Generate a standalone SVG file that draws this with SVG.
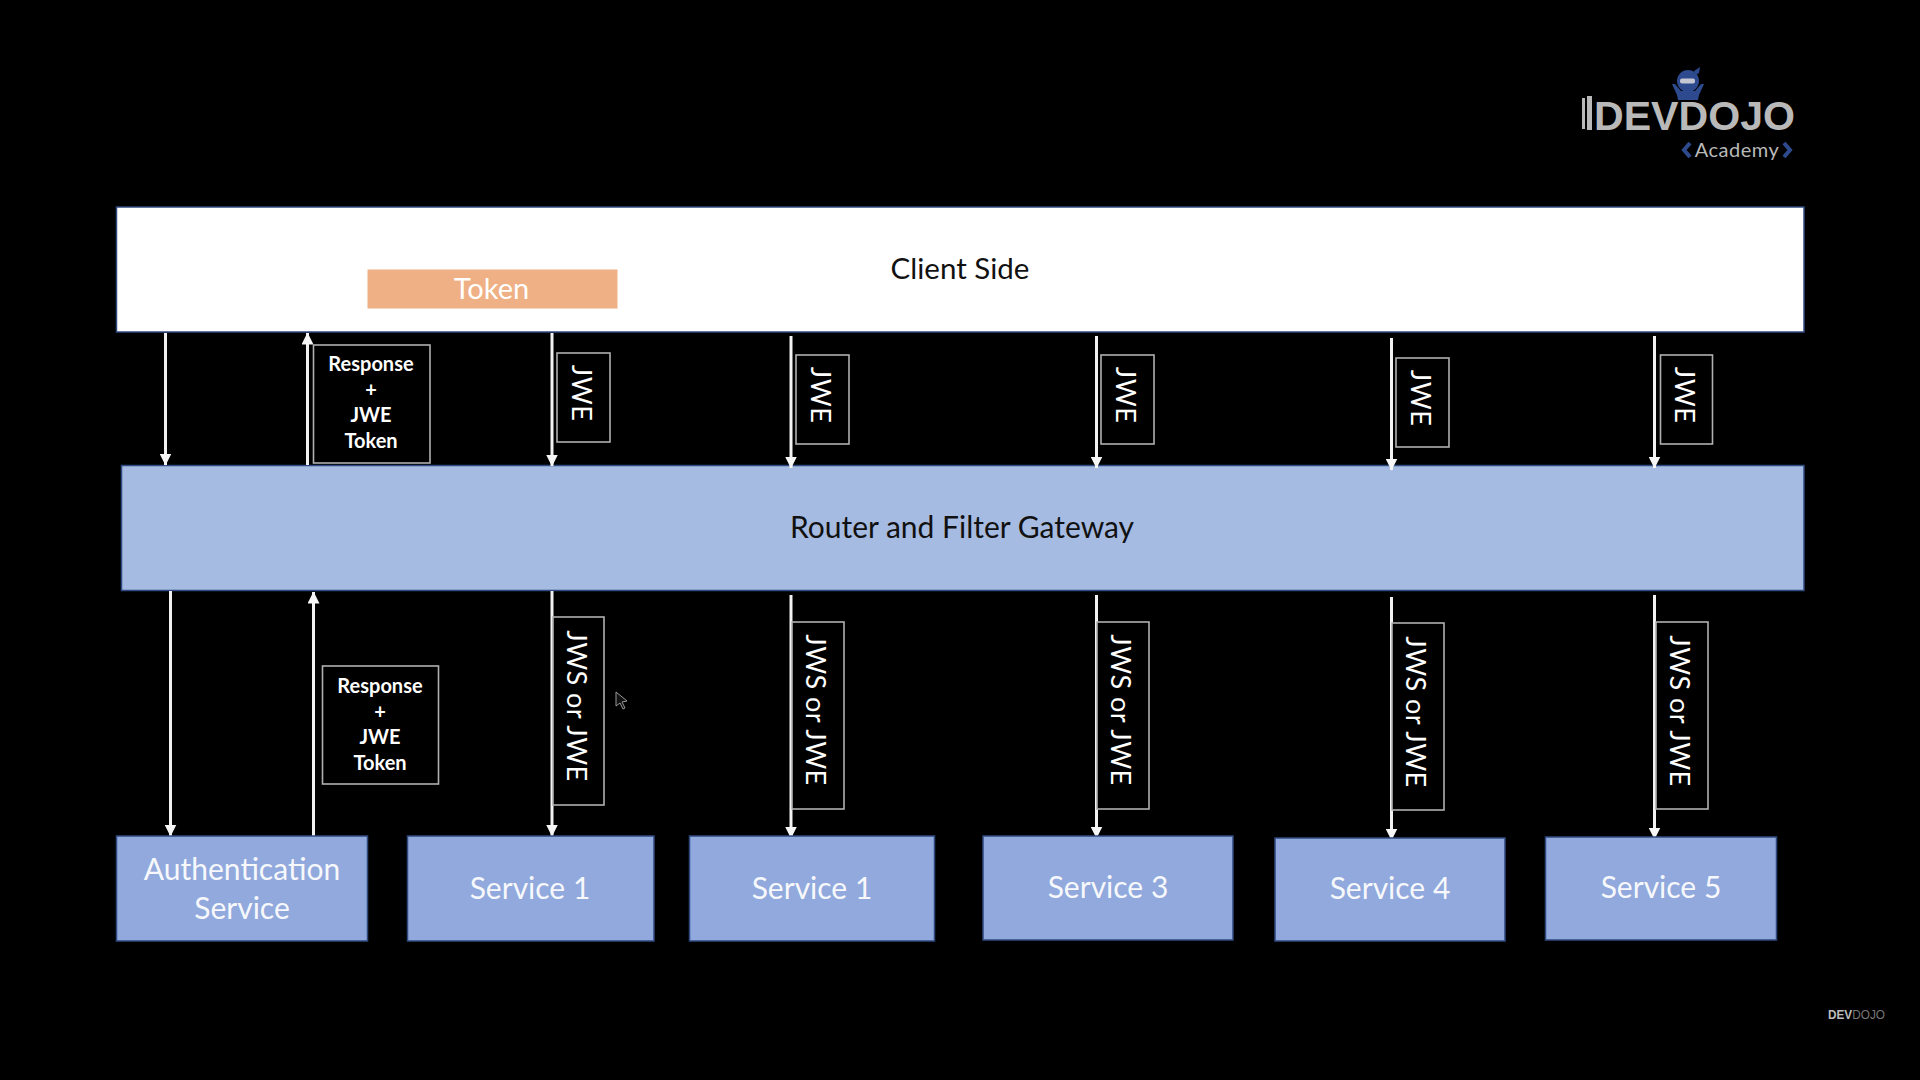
<svg xmlns="http://www.w3.org/2000/svg" width="1920" height="1080" viewBox="0 0 1920 1080">
<style>
text{font-family:"Lato","Open Sans","Liberation Sans",sans-serif;text-anchor:middle}
.bar{stroke:#2f4a80;stroke-width:1.5}
.svc{fill:#91a9dc}
.svct{fill:#fff;font-size:30px;opacity:.93}
.lab{fill:#000;stroke:#b0b0b0;stroke-width:1.6}
.labt{fill:#fff;font-size:27px;letter-spacing:.5px}
.resp{fill:#fff;font-size:20px;font-weight:700}
.conn line{stroke:#f2f2f2;stroke-width:3}
.logo{fill:#b9b9b9}
</style>
<defs>
<marker id="arrow" viewBox="0 0 12 12" refX="11.5" refY="6" markerWidth="12" markerHeight="12" markerUnits="userSpaceOnUse" orient="auto"><path d="M0 0L12 6L0 12z" fill="#f6f6f6"/></marker>
</defs>
<rect width="1920" height="1080" fill="#000"/>

<g id="logo">
<path d="M1694 71l6-4-1 6-3 2z" fill="#2e4a8f"/>
<circle cx="1688" cy="81" r="11" fill="#2e4a8f"/>
<path d="M1672 84l3 0 6 7h14l6-7 3 0-5 11-1 5h-20l-1-5z" fill="#2e4a8f"/>
<rect x="1680" y="78.500" width="15" height="5" rx="2" fill="#c4c6d2"/>
<rect x="1582" y="98" width="3" height="31" class="logo"/><rect x="1587" y="96" width="5" height="34" class="logo"/>
<text x="1694.500" y="129.500" style="font-family:'Liberation Sans',sans-serif;font-size:40px;font-weight:700" class="logo" textLength="201" lengthAdjust="spacingAndGlyphs">DEVDOJO</text>
<path d="M1690 143l-6 7 6 7M1784 143l6 7-6 7" fill="none" stroke="#2e4a8f" stroke-width="4"/>
<text x="1737" y="157" style="font-size:20px;letter-spacing:.5px" class="logo">Academy</text>
</g>

<g id="client"><rect x="116.500" y="207" width="1687.500" height="125" fill="#fff" class="bar"/><text x="960" y="279" font-size="29.500" fill="#111">Client Side</text></g>
<g id="token"><rect x="367.500" y="269.500" width="250" height="39" fill="#eeb084"/><text x="491.500" y="299" font-size="29" fill="#fff">Token</text></g>
<g id="gateway"><rect x="121.500" y="465.500" width="1682.500" height="125" fill="#a6bbe1" class="bar"/><text x="962" y="538" font-size="30" fill="#111">Router and Filter Gateway</text></g>

<g class="conn" id="connectors">
<line x1="165.500" y1="333" x2="165.500" y2="465" marker-end="url(#arrow)"/>
<line x1="307.500" y1="465" x2="307.500" y2="333" marker-end="url(#arrow)"/>
<line x1="552" y1="333" x2="552" y2="466" marker-end="url(#arrow)"/>
<line x1="791" y1="336" x2="791" y2="468" marker-end="url(#arrow)"/>
<line x1="1096.500" y1="336" x2="1096.500" y2="468" marker-end="url(#arrow)"/>
<line x1="1391.500" y1="338" x2="1391.500" y2="470" marker-end="url(#arrow)"/>
<line x1="1654.500" y1="336" x2="1654.500" y2="468" marker-end="url(#arrow)"/>
<line x1="170.500" y1="591" x2="170.500" y2="836" marker-end="url(#arrow)"/>
<line x1="313.500" y1="836" x2="313.500" y2="592" marker-end="url(#arrow)"/>
<line x1="552" y1="591" x2="552" y2="836" marker-end="url(#arrow)"/>
<line x1="791" y1="595" x2="791" y2="838" marker-end="url(#arrow)"/>
<line x1="1096.500" y1="595" x2="1096.500" y2="838" marker-end="url(#arrow)"/>
<line x1="1391.500" y1="597" x2="1391.500" y2="840" marker-end="url(#arrow)"/>
<line x1="1654.500" y1="595" x2="1654.500" y2="839" marker-end="url(#arrow)"/>
</g>

<g id="resp-top"><rect x="313.500" y="345" width="116.500" height="118" class="lab"/>
<text class="resp" x="371" y="371">Response</text><text class="resp" x="371" y="397">+</text><text class="resp" x="371" y="422">JWE</text><text class="resp" x="371" y="448">Token</text></g>
<g id="resp-bottom"><rect x="322.500" y="666" width="116" height="118" class="lab"/>
<text class="resp" x="380" y="693">Response</text><text class="resp" x="380" y="719">+</text><text class="resp" x="380" y="744">JWE</text><text class="resp" x="380" y="770">Token</text></g>

<g id="jwe-1"><rect x="557" y="353" width="53" height="89" class="lab"/><text class="labt" transform="translate(572 393) rotate(90)">JWE</text></g>
<g id="jwe-2"><rect x="796" y="355" width="53" height="89" class="lab"/><text class="labt" transform="translate(811 395) rotate(90)">JWE</text></g>
<g id="jwe-3"><rect x="1101" y="355" width="53" height="89" class="lab"/><text class="labt" transform="translate(1116 395) rotate(90)">JWE</text></g>
<g id="jwe-4"><rect x="1396" y="358" width="53" height="89" class="lab"/><text class="labt" transform="translate(1411 398) rotate(90)">JWE</text></g>
<g id="jwe-5"><rect x="1660.500" y="355" width="52" height="89" class="lab"/><text class="labt" transform="translate(1675 395) rotate(90)">JWE</text></g>

<g id="jws-1"><rect x="553" y="617" width="51" height="188" class="lab"/><text class="labt" transform="translate(566.500 706) rotate(90)">JWS or JWE</text></g>
<g id="jws-2"><rect x="792" y="622" width="52" height="187" class="lab"/><text class="labt" transform="translate(805.500 710) rotate(90)">JWS or JWE</text></g>
<g id="jws-3"><rect x="1097" y="622" width="52" height="187" class="lab"/><text class="labt" transform="translate(1110.500 710) rotate(90)">JWS or JWE</text></g>
<g id="jws-4"><rect x="1392" y="623" width="52" height="187" class="lab"/><text class="labt" transform="translate(1405.500 712) rotate(90)">JWS or JWE</text></g>
<g id="jws-5"><rect x="1656" y="622" width="52" height="187" class="lab"/><text class="labt" transform="translate(1669.500 711) rotate(90)">JWS or JWE</text></g>

<g id="auth"><rect x="116.500" y="836" width="251" height="105" class="svc bar"/><text class="svct" x="242" y="880">Authentication</text><text class="svct" x="242" y="919">Service</text></g>
<g id="svc-1"><rect x="407.500" y="836" width="246.500" height="105" class="svc bar"/><text class="svct" x="530" y="899">Service 1</text></g>
<g id="svc-2"><rect x="689.500" y="836" width="245" height="105" class="svc bar"/><text class="svct" x="812" y="899">Service 1</text></g>
<g id="svc-3"><rect x="983" y="836" width="250" height="104" class="svc bar"/><text class="svct" x="1108" y="898">Service 3</text></g>
<g id="svc-4"><rect x="1275" y="838" width="230" height="103" class="svc bar"/><text class="svct" x="1390" y="899">Service 4</text></g>
<g id="svc-5"><rect x="1545.500" y="837" width="231" height="103" class="svc bar"/><text class="svct" x="1661" y="898">Service 5</text></g>

<path id="cursor" d="M616 692v14l4-3 3 6 2-1-3-6 5-1z" fill="#111" stroke="#999" stroke-width="1"/>
<g id="footer-logo"><text x="1856.500" y="1019" style="font-family:'Liberation Sans',sans-serif;font-size:12px" textLength="57" lengthAdjust="spacingAndGlyphs"><tspan fill="#bdbdbd" font-weight="700">DEV</tspan><tspan fill="#777">DOJO</tspan></text></g>
</svg>
